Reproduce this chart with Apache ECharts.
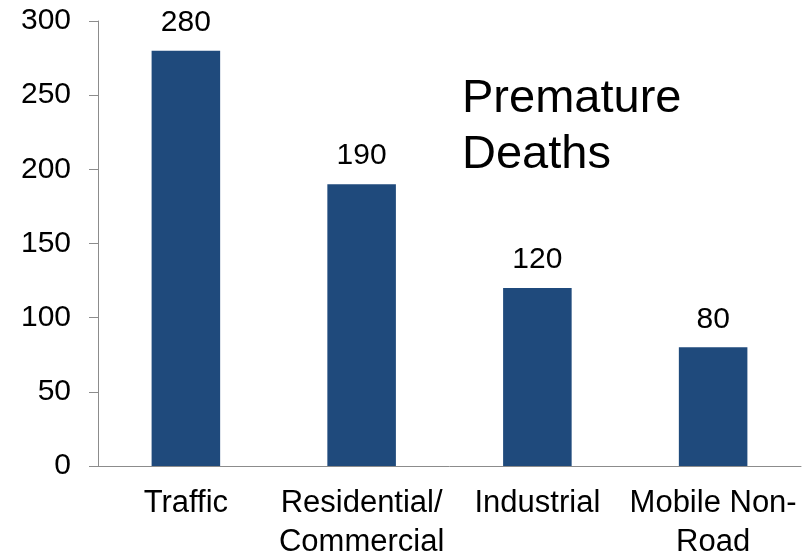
<!DOCTYPE html>
<html lang="en">
<head>
<meta charset="UTF-8">
<title>Premature Deaths</title>
<style>
html, body { margin: 0; padding: 0; background: #fff; }
#chart { width: 809px; height: 553px; }
</style>
</head>
<body>
<div id="chart"></div>
<script src="https://cdn.jsdelivr.net/npm/echarts@6/dist/echarts.min.js"></script>
<script>
var categories = ['Traffic', 'Residential/\nCommercial', 'Industrial', 'Mobile Non-\nRoad'];
var deaths = [280, 190, 120, 80];
var yTicks = [0, 50, 100, 150, 200, 250, 300];

var font = 'Liberation Sans, Arial, sans-serif';
var axisGrey = '#8c8c8c';

var chart = echarts.init(document.getElementById('chart'));
chart.setOption({
    animation: false,
    title: {
        text: 'Premature\nDeaths',
        left: 462,
        top: 71,
        padding: 0,
        textStyle: {
            fontFamily: font,
            fontSize: 47,
            fontWeight: 'normal',
            lineHeight: 56,
            color: '#000'
        }
    },
    grid: {
        left: 98, right: 8, top: 21, bottom: 87,
        containLabel: false,
        outerBoundsMode: 'none'
    },
    xAxis: {
        type: 'category',
        data: categories,
        axisLine: { lineStyle: { color: axisGrey, width: 1 } },
        axisTick: { length: 9, lineStyle: { color: axisGrey } },
        axisLabel: {
            margin: 18,
            fontFamily: font,
            fontSize: 31,
            lineHeight: 39,
            color: '#000',
            interval: 0
        }
    },
    yAxis: {
        type: 'value',
        min: yTicks[0],
        max: yTicks[yTicks.length - 1],
        interval: 50,
        axisLine: { show: true, lineStyle: { color: axisGrey, width: 1 } },
        axisTick: { show: true, length: 9, lineStyle: { color: axisGrey } },
        splitLine: { show: false },
        axisLabel: {
            margin: 27,
            fontFamily: font,
            fontSize: 30,
            color: '#000'
        }
    },
    series: [{
        type: 'bar',
        data: deaths,
        barWidth: '39%',
        itemStyle: { color: '#1f4a7c' },
        label: {
            show: true,
            position: 'top',
            distance: 13,
            fontFamily: font,
            fontSize: 30,
            color: '#000'
        }
    }]
});
</script>
</body>
</html>
